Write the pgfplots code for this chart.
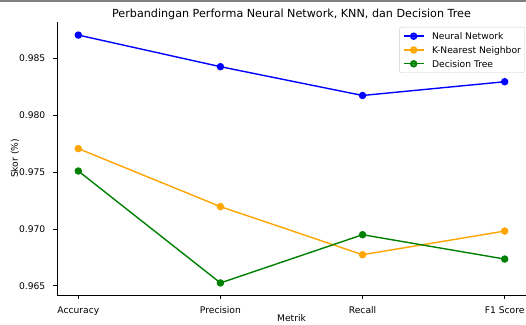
\documentclass[border=0pt]{standalone}
\usepackage{fontspec}
\setmainfont{DejaVu Sans}
\usepackage{pgfplots}
\pgfplotsset{compat=1.18}
\definecolor{mplblue}{RGB}{0,0,255}
\definecolor{mplorange}{RGB}{255,165,0}
\definecolor{mplgreen}{RGB}{0,128,0}
\begin{document}
\begin{tikzpicture}
\begin{axis}[
  name=ax,
  scale only axis,
  width=469bp, height=273bp,
  at={(0,0)}, anchor=south west,
  xmin=-0.15, xmax=3.15,
  ymin=0.9642, ymax=0.9882,
  xtick={0,1,2,3},
  xticklabels={Accuracy,Precision,Recall,F1 Score},
  ytick={0.965,0.970,0.975,0.980,0.985},
  /pgf/number format/fixed,
  /pgf/number format/fixed zerofill,
  /pgf/number format/precision=3,
  /pgf/number format/assume math mode=true,
  scaled y ticks=false,
  axis x line*=bottom, axis y line*=left,
  x axis line style={-}, y axis line style={-},
  axis line style={line width=0.8bp, black},
  tick align=outside,
  major tick length=3.5bp,
  tick style={line width=0.8bp, black},
  tick label style={font=\fontsize{9.2}{11}\selectfont},
  xticklabel style={anchor=base, inner sep=0pt, yshift=-15bp},
  yticklabel style={anchor=east, inner sep=0pt, xshift=-8bp},
  xticklabel shift=0pt, yticklabel shift=0pt,
  xlabel={Metrik},
  ylabel={Skor (\%)},
  label style={font=\fontsize{9.2}{11}\selectfont},
  xlabel style={at={(axis description cs:0.5,-0.0842)}, anchor=center},
  ylabel style={at={(axis description cs:-0.0896,0.5)}, anchor=center},
  every axis title shift=0pt,
  title={Perbandingan Performa Neural Network, KNN, dan Decision Tree},
  title style={at={(axis description cs:0.5,1)}, anchor=base, inner sep=0pt, yshift=4.7bp, font=\fontsize{11.2}{13}\selectfont},
  legend style={at={(0.9968,0.9817)}, anchor=north east, draw=black!20, rounded corners=2bp,
    fill=white, fill opacity=0.8, text opacity=1, font=\fontsize{9.2}{11}\selectfont,
    inner xsep=3.4bp, inner ysep=5.7bp, row sep=7.2bp, column sep=7.7bp,
    nodes={inner sep=0pt, text height=6.6bp, text depth=0bp},
    legend cell align=left},
  legend image code/.code={\draw[mark repeat=2,mark phase=2] plot coordinates {(0bp,0bp) (10bp,0bp) (20bp,0bp)};},
  every axis plot/.append style={line width=1.4bp, mark=*, mark size=3bp},
]
\addplot[color=mplblue, mark options={fill=mplblue, draw=mplblue}] coordinates {(0,0.98705) (1,0.98427) (2,0.98174) (3,0.98295)};
\addlegendentry{Neural Network}
\addplot[color=mplorange, mark options={fill=mplorange, draw=mplorange}] coordinates {(0,0.97707) (1,0.97197) (2,0.96774) (3,0.96982)};
\addlegendentry{K-Nearest Neighbor}
\addplot[color=mplgreen, mark options={fill=mplgreen, draw=mplgreen}] coordinates {(0,0.97510) (1,0.96526) (2,0.96950) (3,0.96736)};
\addlegendentry{Decision Tree}
\end{axis}
\pgfresetboundingbox
\path[use as bounding box] (-57bp,-30bp) rectangle (469bp,295bp);
\draw[black!50, line width=2bp] (-57bp,294bp) -- (469bp,294bp);
\end{tikzpicture}
\end{document}
